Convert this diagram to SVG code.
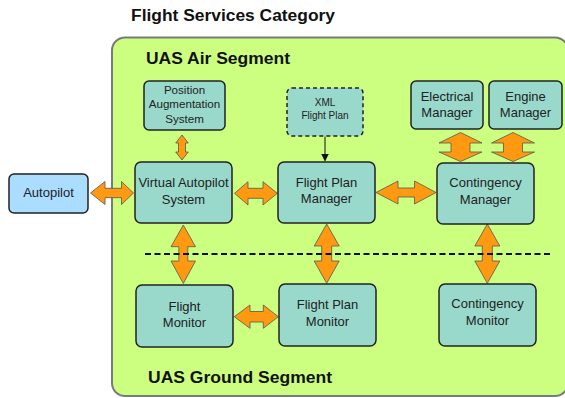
<svg xmlns="http://www.w3.org/2000/svg" width="565" height="398" viewBox="0 0 565 398">
<defs>
<style>
.node{fill:#99d9cc;stroke:#222;stroke-width:1.5}
.t{font-family:"Liberation Sans",Arial,sans-serif;font-size:13px;fill:#222;text-anchor:middle}
.h{font-family:"Liberation Sans",Arial,sans-serif;font-weight:bold;fill:#111}
.arr{fill:#ff9911;stroke:#555;stroke-width:0.8;stroke-linejoin:miter}
</style>
<marker id="ah" markerWidth="8" markerHeight="8" refX="7" refY="4" orient="auto" markerUnits="userSpaceOnUse">
<path d="M0,0 L8,4 L0,8 Z" fill="#111"/>
</marker>
</defs>
<rect width="565" height="398" fill="#fff"/>
<text class="h" x="131" y="21" font-size="16" textLength="204" lengthAdjust="spacingAndGlyphs">Flight Services Category</text>
<g id="container">
<rect x="112" y="37.5" width="456" height="358.5" rx="13" fill="#ccff80" stroke="#7a7a7a" stroke-width="2"/>
<text class="h" x="146" y="64" font-size="16" textLength="144" lengthAdjust="spacingAndGlyphs">UAS Air Segment</text>
<text class="h" x="148" y="383" font-size="16" textLength="184" lengthAdjust="spacingAndGlyphs">UAS Ground Segment</text>
</g>
<g id="connectors">
<path class="arr" d="M90.5,193 L105,181.5 L105,188.3 L121.5,188.3 L121.5,181.5 L133.5,193 L121.5,204.5 L121.5,197.7 L105,197.7 L105,204.5 Z"/>
<path class="arr" d="M234.5,193.3 L248,181.7 L248,188.3 L263,188.3 L263,181.7 L277.3,193.3 L263,205 L263,198.3 L248,198.3 L248,205 Z"/>
<path class="arr" d="M376,192.5 L398,181 L398,188 L414.5,188 L414.5,181 L436,192.5 L414.5,204 L414.5,197 L398,197 L398,204 Z"/>
<path class="arr" d="M234.3,316.7 L250,305 L250,311.5 L263.3,311.5 L263.3,305 L278.3,316.7 L263.3,328.3 L263.3,322 L250,322 L250,328.3 Z"/>
<path class="arr" d="M182,135 L188.3,143 L185.5,143 L185.5,152 L188.3,152 L182,160 L175.7,152 L178.5,152 L178.5,143 L175.7,143 Z"/>
<path class="arr" d="M460.5,132.5 L482,143 L470,143 L470,152 L482,152 L460.5,161.5 L439,152 L451,152 L451,143 L439,143 Z"/>
<path class="arr" d="M513,132.5 L534.5,143 L522.5,143 L522.5,152 L534.5,152 L513,161.5 L491.5,152 L503.5,152 L503.5,143 L491.5,143 Z"/>
<path class="arr" d="M183.3,225 L195.5,246.7 L187.8,246.7 L187.8,261 L195.5,261 L183.3,283.5 L171,261 L178.8,261 L178.8,246.7 L171,246.7 Z"/>
<path class="arr" d="M326.7,224 L339.2,246 L331.7,246 L331.7,261 L339.2,261 L326.7,283.3 L314.2,261 L321.7,261 L321.7,246 L314.2,246 Z"/>
<path class="arr" d="M487.3,224 L499.8,246 L492.3,246 L492.3,261 L499.8,261 L487.3,283.3 L474.8,261 L482.3,261 L482.3,246 L474.8,246 Z"/>
<line x1="325" y1="136.5" x2="325" y2="160.5" stroke="#111" stroke-width="1" marker-end="url(#ah)"/>
</g>
<line id="divider" x1="145" y1="254" x2="553" y2="254" stroke="#111" stroke-width="2" stroke-dasharray="6,3.5"/>
<g id="autopilot">
<rect x="9" y="174" width="79" height="39" rx="5" fill="#aaddff" stroke="#222" stroke-width="1.5"/>
<text class="t" x="48.5" y="197">Autopilot</text>
</g>
<g id="pas">
<rect class="node" x="144" y="81" width="81" height="49" rx="5"/>
<text class="t" style="font-size:11.6px" x="184.5" y="94">Position</text>
<text class="t" style="font-size:11.6px" x="184.5" y="108.3">Augmentation</text>
<text class="t" style="font-size:11.6px" x="184.5" y="122.7">System</text>
</g>
<g id="xml">
<rect class="node" x="287" y="88" width="76" height="48" rx="5" stroke-dasharray="4,3"/>
<text class="t" style="font-size:10px" x="325" y="106">XML</text>
<text class="t" style="font-size:10px" x="325" y="119.3">Flight Plan</text>
</g>
<g id="electrical">
<rect class="node" x="411" y="81" width="72" height="48" rx="5"/>
<text class="t" x="447" y="100.7">Electrical</text>
<text class="t" x="447" y="117.3">Manager</text>
</g>
<g id="engine">
<rect class="node" x="489" y="81" width="73" height="48" rx="5"/>
<text class="t" x="525.5" y="100.7">Engine</text>
<text class="t" x="525.5" y="117.3">Manager</text>
</g>
<g id="vas">
<rect class="node" x="135" y="162" width="97" height="61" rx="6"/>
<text class="t" x="183.5" y="187.3">Virtual Autopilot</text>
<text class="t" x="183.5" y="204">System</text>
</g>
<g id="fpm">
<rect class="node" x="278" y="162" width="97" height="61" rx="6"/>
<text class="t" x="326.5" y="186.7">Flight Plan</text>
<text class="t" x="326.5" y="203.3">Manager</text>
</g>
<g id="cm">
<rect class="node" x="437" y="163" width="97" height="61" rx="6"/>
<text class="t" x="485.5" y="187.3">Contingency</text>
<text class="t" x="485.5" y="204">Manager</text>
</g>
<g id="fm">
<rect class="node" x="136" y="285" width="97" height="62" rx="6"/>
<text class="t" x="184.5" y="310.7">Flight</text>
<text class="t" x="184.5" y="327.3">Monitor</text>
</g>
<g id="fpmon">
<rect class="node" x="279" y="284" width="97" height="62" rx="6"/>
<text class="t" x="327.5" y="309.3">Flight Plan</text>
<text class="t" x="327.5" y="326">Monitor</text>
</g>
<g id="cmon">
<rect class="node" x="439" y="284" width="97" height="62" rx="6"/>
<text class="t" x="487.5" y="308.3">Contingency</text>
<text class="t" x="487.5" y="325">Monitor</text>
</g>
</svg>
